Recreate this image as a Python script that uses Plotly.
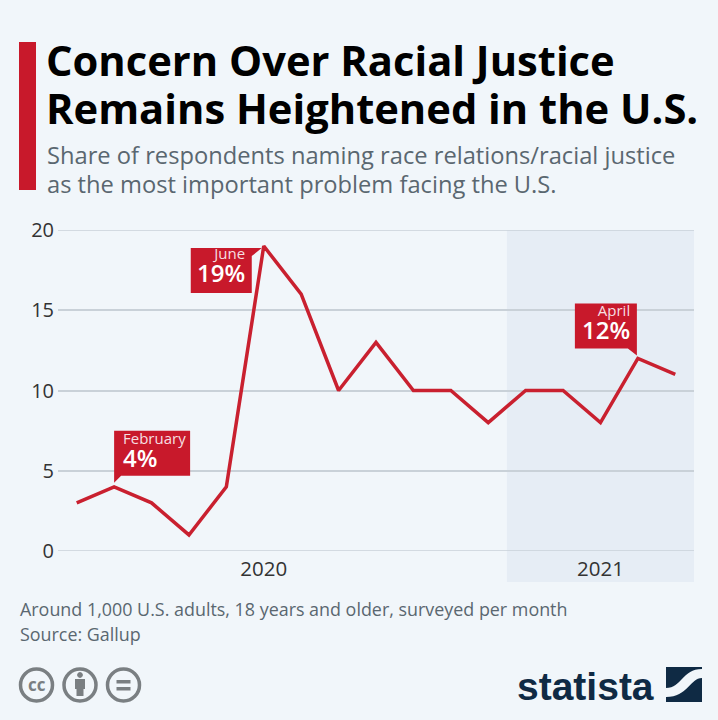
import plotly.graph_objects as go

W, H = 718, 720
months = ["Jan 2020","Feb 2020","Mar 2020","Apr 2020","May 2020","Jun 2020","Jul 2020","Aug 2020",
          "Sep 2020","Oct 2020","Nov 2020","Dec 2020","Jan 2021","Feb 2021","Mar 2021","Apr 2021","May 2021"]
share = [3,4,3,1,4,19,16,10,13,10,10,8,10,10,8,12,11]
year_ticks = ["Jun 2020","Mar 2021"]
year_labels = ["2020","2021"]
y_ticks = [0,5,10,15,20]
callouts = [("Feb 2020","February","4%"),("Jun 2020","June","19%"),("Apr 2021","April","12%")]

RED="#c8192b"; LINE="#c9202f"; BG="#f1f6fa"; GREY="#5a6770"; NAVY="#0f2a44"; ICON="#7a7f82"; GRID="#c9d1d8"
FONT="Open Sans"
L,R,T,B=58,694,230,551
px=lambda x:(x-L)/(R-L)
py=lambda y:(B-y)/(B-T)

fig=go.Figure(go.Scatter(x=months,y=share,mode="lines",line=dict(color=LINE,width=3.5),hoverinfo="skip"))
shapes=[]
annos=[]
def text(x,y,t,size,color,anchor="left",bold=False,font=FONT,va="middle"):
    annos.append(dict(xref="paper",yref="paper",x=px(x),y=py(y),text=f"<b>{t}</b>" if bold else t,showarrow=False,
        xanchor=anchor,yanchor=va,font=dict(family=font,size=size,color=color),borderpad=0,align=anchor))
def rect(x0,y0,x1,y1,color,layer="above"):
    shapes.append(dict(type="rect",xref="paper",yref="paper",x0=px(x0),x1=px(x1),y0=py(y0),y1=py(y1),fillcolor=color,line_width=0,layer=layer))
def circle(cx,cy,r,color,width,fill="rgba(0,0,0,0)"):
    shapes.append(dict(type="circle",xref="paper",yref="paper",x0=px(cx-r),x1=px(cx+r),y0=py(cy-r),y1=py(cy+r),line=dict(color=color,width=width),fillcolor=fill))

# title block
rect(19,42,36,190,RED)
text(45,59,"Concern Over Racial Justice",41.7,"#000000",bold=True)
text(45,107,"Remains Heightened in the U.S.",41.7,"#000000",bold=True)
text(45.5,155,"Share of respondents naming race relations/racial justice",23.7,GREY)
text(45.5,184,"as the most important problem facing the U.S.",23.7,GREY)

# 2021 band
shapes.append(dict(type="rect",xref="x",yref="paper",x0=11.5,x1=16.5,y0=py(582),y1=py(T),fillcolor="#e6edf5",line_width=0,layer="below"))

# callouts anchored to data (pixel offsets from the data point)
boxes={
 "Feb 2020":"M0,4 L0,56 L76,56 L76,11 L7,11 Z",
 "Jun 2020":"M-12,-47 L-73,-47 L-73,-2 L-2,-2 L-12,-10 Z",
 "Apr 2021":"M-63,55 L-1,55 L-1,3 L-10,10 L-63,10 Z",
}
label_pos={"Feb 2020":(121.5,451,"left"),"Jun 2020":(246,266,"right"),"Apr 2021":(631,323,"right")}
for m,name,pct in callouts:
    shapes.append(dict(type="path",xref="x",yref="y",xsizemode="pixel",ysizemode="pixel",xanchor=m,yanchor=share[months.index(m)],
                       path=boxes[m],fillcolor=RED,line_width=0))
    x,y,a=label_pos[m]
    text(x,y,f'<span style="font-size:15px">{name}</span><br><span style="font-size:24px;font-weight:600;color:#ffffff">{pct}</span>',18,"#f6dfe1",anchor=a)

# footer
text(18.5,609,"Around 1,000 U.S. adults, 18 years and older, surveyed per month",17.9,GREY)
text(18.5,634,"Source: Gallup",17.9,GREY)

# licence icons
for cx in (36.5,80,123.5):
    circle(cx,685,16,ICON,3.5)
text(36.5,684,"cc",17,ICON,anchor="center",bold=True)
circle(80,675,2.4,ICON,1,ICON)
rect(75,679,85,689,ICON)
rect(76.5,689,83.5,696,ICON)
rect(116.5,680,130.5,683.5,ICON)
rect(116.5,687,130.5,690.5,ICON)

# logo
text(655,686,"statista",39,NAVY,anchor="right",bold=True,font="Liberation Sans")
rect(666,667,702,702,NAVY)
shapes.append(dict(type="path",xref="paper",yref="paper",fillcolor=BG,line_width=0,
    path=f"M{px(666)},{py(688)} C{px(682)},{py(688)} {px(682)},{py(669)} {px(702)},{py(669)} L{px(702)},{py(678)} C{px(690)},{py(678)} {px(688)},{py(697)} {px(666)},{py(697)} Z"))

fig.update_layout(width=W,height=H,margin=dict(l=L,r=W-R,t=T,b=H-B),paper_bgcolor=BG,plot_bgcolor="rgba(0,0,0,0)",
    showlegend=False,shapes=shapes,annotations=annos,font=dict(family=FONT),
    xaxis=dict(type="category",categoryorder="array",categoryarray=months,range=[-0.5,16.5],tickmode="array",tickvals=year_ticks,ticktext=year_labels,
               showgrid=False,zeroline=False,showline=False,ticks="",ticklabelstandoff=3,tickfont=dict(size=20.5,color="#333333",family=FONT)),
    yaxis=dict(range=[0,20],tickmode="array",tickvals=y_ticks,showgrid=True,gridcolor=GRID,gridwidth=1.5,zeroline=False,
               ticks="",ticklabelstandoff=3,tickfont=dict(size=20,color="#333333",family=FONT)))
for v in (0,20):
    fig.add_shape(type="line",xref="paper",yref="y",x0=0,x1=1,y0=v,y1=v,line=dict(color=GRID,width=1.5),layer="between")
fig.write_html("out.html",post_script="document.body.style.margin='0';document.body.style.background='%s';"%BG,config=dict(displayModeBar=False))
